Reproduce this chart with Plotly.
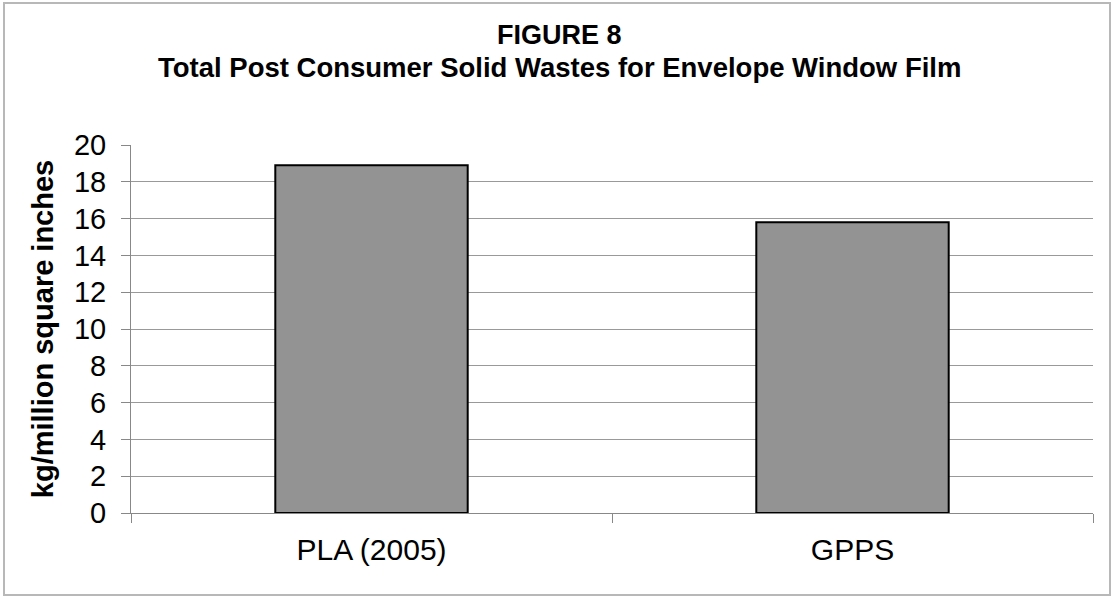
import plotly.graph_objects as go

categories = ["PLA (2005)", "GPPS"]
values = [18.9, 15.8]
y_ticks = [0, 2, 4, 6, 8, 10, 12, 14, 16, 18, 20]

title_line1 = "FIGURE 8"
title_line2 = "Total Post Consumer Solid Wastes for Envelope Window Film"
y_title = "kg/million square inches"

FONT = "Liberation Sans, Arial, sans-serif"

fig = go.Figure(
    go.Bar(
        x=categories,
        y=values,
        width=0.4,
        marker=dict(color="#939393", line=dict(color="#000000", width=2)),
    )
)

L, R, T, B = 131, 21, 145, 85
W, H = 1114, 598
pw, ph = W - L - R, H - T - B


def px_x(px):
    return (px - L) / pw


def px_y(py):
    return (T + ph - py) / ph


fig.update_layout(
    width=W,
    height=H,
    margin=dict(l=L, r=R, t=T, b=B, pad=0),
    paper_bgcolor="white",
    plot_bgcolor="white",
    showlegend=False,
    font=dict(family=FONT, color="#000000"),
    xaxis=dict(
        type="category",
        tickson="boundaries",
        ticks="outside",
        ticklen=9,
        tickcolor="#888888",
        showline=True,
        linecolor="#888888",
        linewidth=1,
        showgrid=False,
        tickfont=dict(size=30, color="#000000"),
        ticklabelstandoff=10,
    ),
    yaxis=dict(
        range=[0, 20],
        tickvals=y_ticks,
        ticks="outside",
        ticklen=9,
        tickcolor="#888888",
        showline=True,
        linecolor="#888888",
        linewidth=1,
        showgrid=True,
        gridcolor="#999999",
        gridwidth=1,
        zeroline=False,
        tickfont=dict(size=29, color="#000000"),
        ticklabelstandoff=9,
        title=dict(
            text=y_title,
            font=dict(family=FONT, size=29, color="#000000", weight="bold"),
            standoff=11,
        ),
    ),
    annotations=[
        dict(
            text=title_line1,
            xref="paper", yref="paper",
            x=px_x(559), y=px_y(35),
            xanchor="center", yanchor="middle",
            showarrow=False,
            font=dict(family=FONT, size=27, color="#000000", weight="bold"),
        ),
        dict(
            text=title_line2,
            xref="paper", yref="paper",
            x=px_x(559), y=px_y(68),
            xanchor="center", yanchor="middle",
            showarrow=False,
            font=dict(family=FONT, size=27.5, color="#000000", weight="bold"),
        ),
    ],
    shapes=[
        dict(
            type="rect",
            xref="paper",
            yref="paper",
            x0=px_x(4),
            x1=px_x(1110),
            y0=px_y(595),
            y1=px_y(3),
            line=dict(color="#b8b8b8", width=2),
            fillcolor="rgba(0,0,0,0)",
            layer="below",
        )
    ],
)

fig.write_html(
    "out.html",
    config={"displayModeBar": False},
    post_script="document.body.style.margin='0';document.body.style.overflow='hidden';",
)
